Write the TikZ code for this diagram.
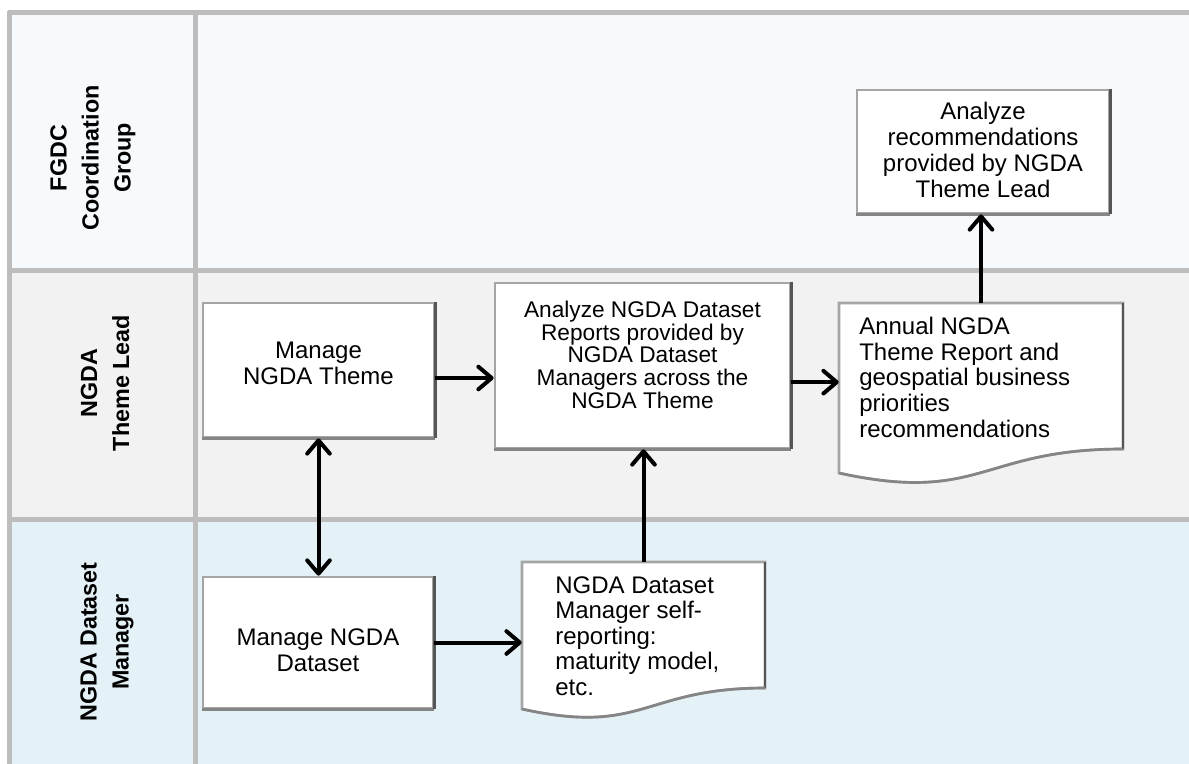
\documentclass[tikz,border=0pt]{standalone}
\usepackage{fontspec}
\setmainfont{Liberation Sans}
\usetikzlibrary{arrows.meta,calc,fit}
\definecolor{laneA}{HTML}{F7FAFD}
\definecolor{laneB}{HTML}{F2F2F2}
\definecolor{laneC}{HTML}{E4F1F6}
\definecolor{rulecol}{HTML}{BDBDBD}
\definecolor{edgeL}{HTML}{A5A5A5}
\definecolor{edgeM}{HTML}{858585}
\definecolor{edgeD}{HTML}{555555}
\begin{document}
\begin{tikzpicture}[x=0.75pt,y=-0.75pt,
  ruleline/.style={draw=rulecol,line width=3.75pt},
  lanelabel/.style={rotate=90,align=center,inner sep=0pt,font=\bfseries\fontsize{17.5}{24}\selectfont},
  boxframe/.style={draw=edgeL,line width=2pt,fill=white,inner sep=0pt},
  boxtext/.style={align=center,inner sep=0pt,font=\fontsize{18}{19.5}\selectfont},
  doctext/.style={align=left,inner sep=0pt,font=\fontsize{18}{19.2}\selectfont},
  darkedge/.style={draw=edgeD,line width=2.2pt},
  midedge/.style={draw=edgeM,line width=2pt},
  docframe/.style={draw=edgeL,line width=2pt,fill=white},
  tipA/.tip={Straight Barb[length=10pt,width=17pt,line join=round,line cap=round]},
  arr/.style={line width=3pt,-tipA},
  darr/.style={line width=3pt,tipA-tipA}
]
\useasboundingbox (0,0) rectangle (1189,764);
% lanes
\fill[laneA] (9,12.5) rectangle (1189,270.5);
\fill[laneB] (9,270.5) rectangle (1189,519);
\fill[laneC] (9,519) rectangle (1189,764);
\draw[ruleline] (7.5,12.5) -- (1189,12.5);
\draw[ruleline] (7.5,270.5) -- (1189,270.5);
\draw[ruleline] (7.5,519) -- (1189,519);
\draw[ruleline] (9.5,10.6) -- (9.5,764);
\draw[ruleline] (195.5,10.6) -- (195.5,764);
% lane labels
\node[lanelabel] (L1) at (93,158) {FGDC\\Coordination\\Group};
\node[lanelabel] (L2) at (105,383) {NGDA\\Theme Lead};
\node[lanelabel] (L3) at (107,642) {NGDA Dataset\\Manager};
% rectangles
\node[boxframe,fit={(857,90) (1109,213)}] (AR) {};
\node[boxframe,fit={(203,303) (434,437)}] (MT) {};
\node[boxframe,fit={(495,283) (790,448)}] (AN) {};
\node[boxframe,fit={(203,577) (433,708)}] (MD) {};
\foreach \n in {AR,MT,AN,MD}{
  \draw[midedge] (\n.south east) -- (\n.south west);
  \draw[darkedge] (\n.north east) -- (\n.south east);
}
\node[boxtext] (ARt) at ([yshift=1pt]AR.center) {Analyze\\recommendations\\provided by NGDA\\Theme Lead};
\node[boxtext] (MTt) at ([yshift=5pt]MT.center) {Manage\\NGDA Theme};
\node[boxtext,font=\fontsize{17}{17.2}\selectfont] (ANt) at ([yshift=8pt]AN.center) {Analyze NGDA Dataset\\Reports provided by\\NGDA Dataset\\Managers across the\\NGDA Theme};
\node[boxtext] (MDt) at ([yshift=-6pt]MD.center) {Manage NGDA\\Dataset};
% documents
\node[inner sep=0pt,fit={(839,303) (1123,485)}] (ANN) {};
\draw[docframe] (839,303) -- (1123,303) -- (1123,449) .. controls (981,449) and (981,504) .. (839,473) -- cycle;
\draw[darkedge] (1123,303) -- (1123,449);
\draw[midedge] (1123,449) .. controls (981,449) and (981,504) .. (839,473);
\node[doctext,anchor=north west] (ANNt) at (859,317) {Annual NGDA\\Theme Report and\\geospatial business\\priorities\\recommendations};
\node[inner sep=0pt,fit={(522,562) (765,719)}] (SR) {};
\draw[docframe] (522,562) -- (765,562) -- (765,688) .. controls (643.5,688) and (643.5,736) .. (522,709) -- cycle;
\draw[darkedge] (765,562) -- (765,688);
\draw[midedge] (765,688) .. controls (643.5,688) and (643.5,736) .. (522,709);
\node[doctext,anchor=north west] (SRt) at (555,576) {NGDA Dataset\\Manager self-\\reporting:\\maturity model,\\etc.};
% connectors
\draw[arr] ([yshift=-6pt]MT.east) -- ([yshift=-6pt]MT.east -| AN.west);
\draw[arr] ([yshift=-12.5pt]AN.east) -- ([yshift=-12.5pt]AN.east -| ANN.west);
\draw[arr] (ANN.north) -- (ANN.north |- AR.south);
\draw[arr] (SR.north) -- (SR.north |- AN.south);
\draw[arr] (MD.east) -- (MD.east -| SR.west);
\draw[darr] (MT.south) -- (MT.south |- MD.north);
\end{tikzpicture}
\end{document}
